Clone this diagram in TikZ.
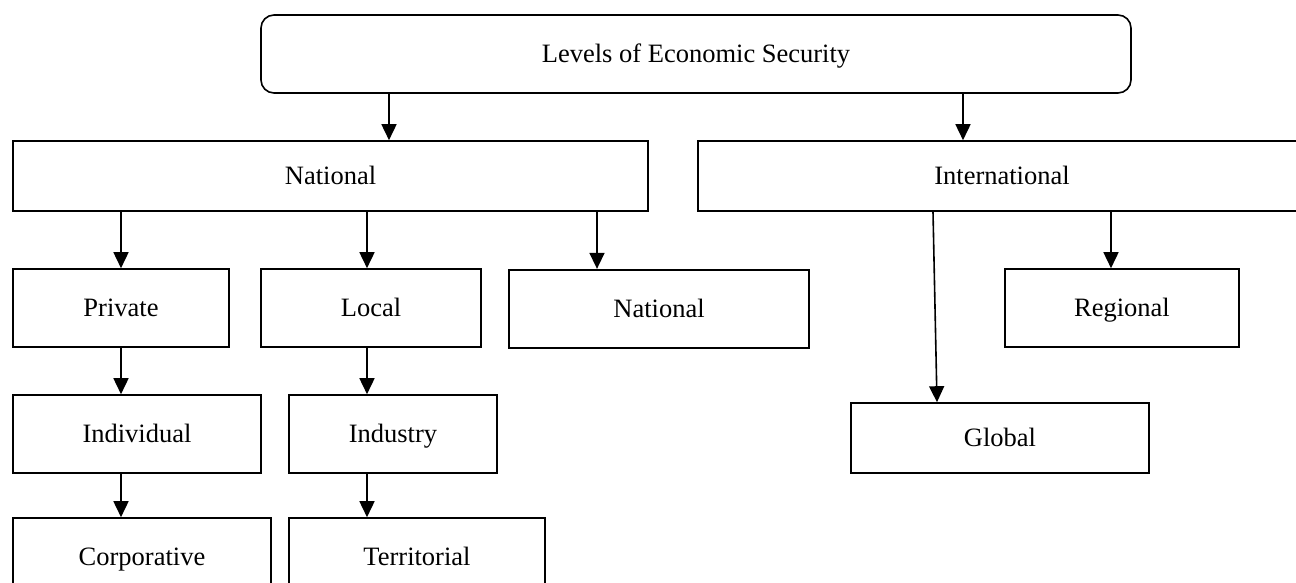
\documentclass[tikz,border=0pt]{standalone}
\usepackage{fontspec}
\setmainfont{Liberation Serif}
\usepackage{tikz}
\usetikzlibrary{calc}
\usetikzlibrary{arrows.meta}
\tikzstyle{lvbox} = [rectangle, 
minimum height=78pt, 
inner sep=0pt, 
text height=18pt, 
text depth=1pt, 
text centered, 
draw=black, 
line width=1.6pt, 
fill=white, 
font=\fontsize{26.5}{30}\selectfont]
\tikzstyle{arrow} = [line width=1.6pt,-{Triangle[length=16pt,width=15pt]}]

\begin{document}
\begin{tikzpicture}[x=1pt,y=-1pt]
    \clip (0,0) rectangle (1296,582);

    \node (top) [lvbox, rounded corners=13pt, minimum width=870pt] at (696,54) {Levels of Economic Security};

    \node (nat) [lvbox, minimum width=635pt, minimum height=70pt] at (330.5,176) {National};
    \node (intl) [lvbox, minimum width=608pt, minimum height=70pt] at (1002,176) {International};

    \node (priv) [lvbox, minimum width=216pt] at (121,308) {Private};
    \node (loc) [lvbox, minimum width=220pt] at (371,308) {Local};
    \node (natl) [lvbox, minimum width=300pt, line width=2.3pt] at (659,309) {National};
    \node (reg) [lvbox, minimum width=234pt] at (1122,308) {Regional};

    \node (indiv) [lvbox, minimum width=248pt] at (137,434) {Individual};
    \node (indu) [lvbox, minimum width=208pt] at (393,434) {Industry};
    \node (glob) [lvbox, minimum width=298pt, minimum height=70pt] at (1000,438) {Global};

    \node (corp) [lvbox, minimum width=258pt] at (142,557) {Corporative};
    \node (terr) [lvbox, minimum width=256pt] at (417,557) {Territorial};

    % first level
    \draw [arrow] (top.south -| 389,0) -- (nat.north -| 389,0);
    \draw [arrow] (top.south -| 963,0) -- (intl.north -| 963,0);

    % national branch
    \draw [arrow] (nat.south -| priv.north) -- (priv.north);
    \draw [arrow] (nat.south -| 367,0) -- (loc.north -| 367,0);
    \draw [arrow] (nat.south -| 597,0) -- (natl.north -| 597,0);
    \draw [arrow] (priv.south) -- (indiv.north -| priv.south);
    \draw [arrow] (indiv.south -| priv.south) -- (corp.north -| priv.south);
    \draw [arrow] (loc.south -| 367,0) -- (indu.north -| 367,0);
    \draw [arrow] (indu.south -| 367,0) -- (terr.north -| 367,0);

    % international branch
    \draw [arrow] (intl.south -| 1111,0) -- (reg.north -| 1111,0);
    \draw [arrow] (intl.south -| 933,0) -- (glob.north -| 937,0);
\end{tikzpicture}
\end{document}
